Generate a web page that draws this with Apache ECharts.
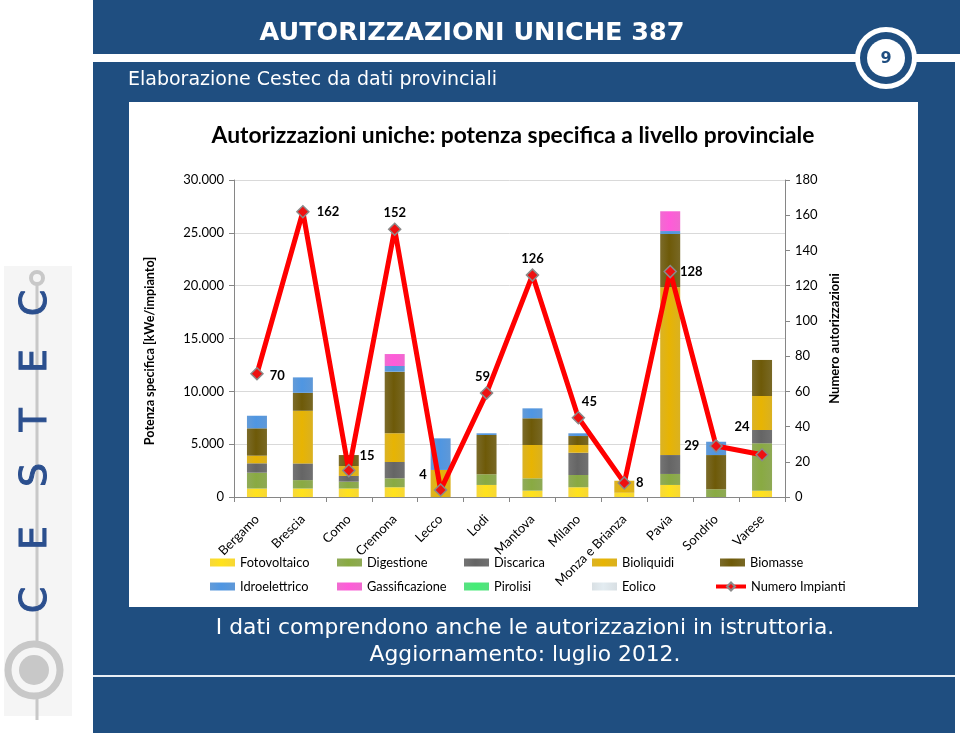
<!DOCTYPE html>
<html>
<head>
<meta charset="utf-8">
<script src="https://cdn.jsdelivr.net/npm/echarts@6/dist/echarts.min.js"></script>
<style>
html,body{margin:0;padding:0;background:#fff;}
#c{width:960px;height:736px;}
</style>
</head>
<body>
<div id="c"></div>
<script>
// ---- data ----
var categories = ['Bergamo','Brescia','Como','Cremona','Lecco','Lodi','Mantova','Milano','Monza e Brianza','Pavia','Sondrio','Varese'];
var fotovoltaico   = [800, 800, 800, 920, 0, 1140, 600, 920, 400, 1140, 0, 600];
var digestione     = [1500, 800, 650, 850, 0, 1010, 1170, 1160, 0, 1040, 730, 4480];
var discarica      = [890, 1580, 540, 1540, 0, 0, 0, 2110, 0, 1790, 0, 1260];
var bioliquidi     = [720, 4980, 940, 2720, 2560, 0, 3150, 730, 1140, 15880, 0, 3220];
var biomasse       = [2590, 1700, 1040, 5830, 0, 3720, 2530, 850, 0, 5040, 3240, 3410];
var idroelettrico  = [1190, 1460, 0, 540, 2990, 160, 940, 260, 0, 280, 1260, 0];
var gassificazione = [0, 0, 0, 1130, 0, 0, 0, 0, 0, 1870, 0, 0];
var pirolisi       = [0, 0, 0, 0, 0, 0, 0, 0, 0, 0, 0, 0];
var eolico         = [0, 0, 0, 0, 0, 0, 0, 0, 0, 0, 0, 0];
var numeroImpianti = [70, 162, 15, 152, 4, 59, 126, 45, 8, 128, 29, 24];
var leftTicks = {min: 0, max: 30000, interval: 5000};
var rightTicks = {min: 0, max: 180, interval: 20};

// ---- style ----
var BLUE = '#1f4e80';
var FONT = 'Lato';
var barSeriesDefs = [
  ['Fotovoltaico', fotovoltaico, '#f6d21a'],
  ['Digestione', digestione, '#7f9e3e'],
  ['Discarica', discarica, '#5e5e5e'],
  ['Bioliquidi', bioliquidi, '#d6a703'],
  ['Biomasse', biomasse, '#665408'],
  ['Idroelettrico', idroelettrico, '#4a8bd2'],
  ['Gassificazione', gassificazione, '#ee55c9'],
  ['Pirolisi', pirolisi, '#3fdc6e'],
  ['Eolico', eolico, '#d3dbe0']
];
// label placement for the line labels (style only)
var lblPos = ['right','right','right','top','left','top','top','top','right','right','left','top'];
var lblOff = [[-2,2],[-1,0],[-4,-15],[0,5],[1,-15],[-4,5],[0,5],[11,5],[-3,0],[-5,0],[-2,0],[-20,-7]];

function grad(c){
  return new echarts.graphic.LinearGradient(0,0,1,0,[
    {offset:0, color: echarts.color.lift(c, 0.14)},
    {offset:0.45, color: echarts.color.lift(c, -0.08)},
    {offset:1, color: echarts.color.lift(c, 0.12)}
  ]);
}
function thousands(v){ return String(v).replace(/\B(?=(\d{3})+(?!\d))/g, '.'); }

var series = barSeriesDefs.map(function(d){
  return {
    name: d[0], type: 'bar', stack: 'tot', barWidth: 20,
    data: d[1],
    itemStyle: {color: grad(d[2])},
    emphasis: {disabled: true}
  };
});
series.push({
  name: 'Numero Impianti', type: 'line', yAxisIndex: 1,
  data: numeroImpianti.map(function(v,i){
    return {value: v, label: {position: lblPos[i], offset: lblOff[i]}};
  }),
  symbol: 'diamond', symbolSize: 12,
  lineStyle: {color: '#ff0000', width: 5},
  itemStyle: {color: '#ee1111', borderColor: '#8a8a8a', borderWidth: 1.5},
  label: {show: true, color: '#000', fontWeight: 'bold', fontSize: 13, fontFamily: FONT, distance: 8},
  z: 5
});

var legendRows = [
  ['Fotovoltaico','Digestione','Discarica','Bioliquidi','Biomasse'],
  ['Idroelettrico','Gassificazione','Pirolisi','Eolico','Numero Impianti']
];
var legendX = [210, 337, 464, 592, 720];
var legendY = [556, 580];
var legends = [];
legendRows.forEach(function(row, r){
  row.forEach(function(name, k){
    var isLine = name === 'Numero Impianti';
    var lg = {
      data: [name], left: legendX[k] - (isLine ? 6 : 0), top: legendY[r], padding: 0,
      itemWidth: isLine ? 30 : 25, itemHeight: isLine ? 10 : 8,
      selectedMode: false,
      textStyle: {fontFamily: FONT, fontSize: 12.8, color: '#000'}
    };
    if (isLine) {
      lg.lineStyle = {width: 4};
    } else {
      lg.icon = 'rect';
    }
    legends.push(lg);
  });
});

function letter(ch, y){
  return {type:'text', x: 36, y: y, rotation: Math.PI/2, z: -5,
    style:{text: ch, fill: '#2b4f8e', stroke: '#2b4f8e', lineWidth: 1, font: '38px "DejaVu Sans"', align:'center', verticalAlign:'middle'}};
}

var graphics = [
  // logo strip
  {type:'rect', shape:{x:4, y:266, width:68, height:450}, style:{fill:'#f5f5f5'}, z:-10},
  {type:'line', shape:{x1:37, y1:284, x2:37, y2:720}, style:{stroke:'#c8c8c8', lineWidth:3}, z:-9},
  {type:'circle', shape:{cx:37, cy:278, r:6}, style:{fill:'none', stroke:'#c8c8c8', lineWidth:4}, z:-9},
  {type:'circle', shape:{cx:34, cy:670, r:26}, style:{fill:'#f5f5f5', stroke:'#c8c8c8', lineWidth:7}, z:-8},
  {type:'circle', shape:{cx:34, cy:670, r:15}, style:{fill:'#c8c8c8'}, z:-7},
  letter('C', 600), letter('E', 538), letter('S', 475), letter('T', 420), letter('E', 361), letter('C', 303),
  // blue frame
  {type:'rect', shape:{x:93, y:0, width:867, height:54}, style:{fill:BLUE}, z:-10},
  {type:'rect', shape:{x:93, y:62, width:862, height:671}, style:{fill:BLUE}, z:-10},
  {type:'rect', shape:{x:129, y:102, width:789, height:505}, style:{fill:'#ffffff'}, z:-9},
  {type:'rect', shape:{x:93, y:675, width:862, height:2}, style:{fill:'#e8eef5'}, z:-9},
  // page number circle
  {type:'circle', shape:{cx:886, cy:58, r:31}, style:{fill:'#ffffff'}, z:-8},
  {type:'circle', shape:{cx:886, cy:58, r:26}, style:{fill:BLUE}, z:-7},
  {type:'circle', shape:{cx:886, cy:58, r:19}, style:{fill:'#ffffff'}, z:-6},
  {type:'text', x:886, y:59, z:-5, style:{text:'9', fill:BLUE, font:'bold 16px "DejaVu Sans"', align:'center', verticalAlign:'middle'}},
  // header texts
  {type:'text', x:472, y:33, z:-5, style:{text:'AUTORIZZAZIONI UNICHE 387', fill:'#ffffff', font:'bold 25.5px "DejaVu Sans"', align:'center', verticalAlign:'middle'}},
  {type:'text', x:128, y:80, z:-5, style:{text:'Elaborazione Cestec da dati provinciali', fill:'#ffffff', font:'19px "DejaVu Sans"', align:'left', verticalAlign:'middle'}},
  // chart title
  {type:'text', x:513, y:136, z:-5, style:{text:'Autorizzazioni uniche: potenza specifica a livello provinciale', fill:'#000000', font:'bold 22.8px Lato', align:'center', verticalAlign:'middle'}},
  // left axis name
  {type:'text', x:150, y:351, rotation: Math.PI/2, z:-5, style:{text:'Potenza specifica [kWe/impianto]', fill:'#000000', font:'bold 12.6px Lato', align:'center', verticalAlign:'middle'}},
  // footer
  {type:'text', x:525, y:628, z:-5, style:{text:'I dati comprendono anche le autorizzazioni in istruttoria.', fill:'#ffffff', font:'21.8px "DejaVu Sans"', align:'center', verticalAlign:'middle'}},
  {type:'text', x:525, y:655, z:-5, style:{text:'Aggiornamento: luglio 2012.', fill:'#ffffff', font:'21.8px "DejaVu Sans"', align:'center', verticalAlign:'middle'}}
];

var chart = echarts.init(document.getElementById('c'), null, {renderer:'canvas'});
chart.setOption({
  animation: false,
  backgroundColor: '#ffffff',
  textStyle: {fontFamily: FONT},
  graphic: {elements: graphics},
  grid: {left: 234, right: 175, top: 180, bottom: 239, containLabel: false},
  legend: legends,
  xAxis: {
    type: 'category', data: categories, boundaryGap: true,
    axisLine: {lineStyle: {color: '#868686'}},
    axisTick: {show: true, length: 5, lineStyle: {color: '#868686'}},
    axisLabel: {rotate: 45, fontSize: 13, color: '#000', fontFamily: FONT, margin: 20, interval: 0}
  },
  yAxis: [
    {
      type: 'value', min: leftTicks.min, max: leftTicks.max, interval: leftTicks.interval,
      axisLine: {show: true, lineStyle: {color: '#868686'}},
      axisTick: {show: true, length: 5, lineStyle: {color: '#868686'}},
      axisLabel: {color: '#000', fontSize: 13, fontFamily: FONT, margin: 10, formatter: thousands},
      splitLine: {show: true, lineStyle: {color: '#d9d9d9'}}
    },
    {
      type: 'value', min: rightTicks.min, max: rightTicks.max, interval: rightTicks.interval,
      position: 'right',
      name: 'Numero autorizzazioni', nameLocation: 'middle', nameRotate: 90, nameGap: 32,
      nameTextStyle: {fontWeight: 'bold', fontSize: 13, color: '#000', fontFamily: FONT},
      axisLine: {show: true, lineStyle: {color: '#868686'}},
      axisTick: {show: true, length: 5, lineStyle: {color: '#868686'}},
      axisLabel: {color: '#000', fontSize: 13, fontFamily: FONT, margin: 10},
      splitLine: {show: false}
    }
  ],
  series: series
});
</script>
</body>
</html>
